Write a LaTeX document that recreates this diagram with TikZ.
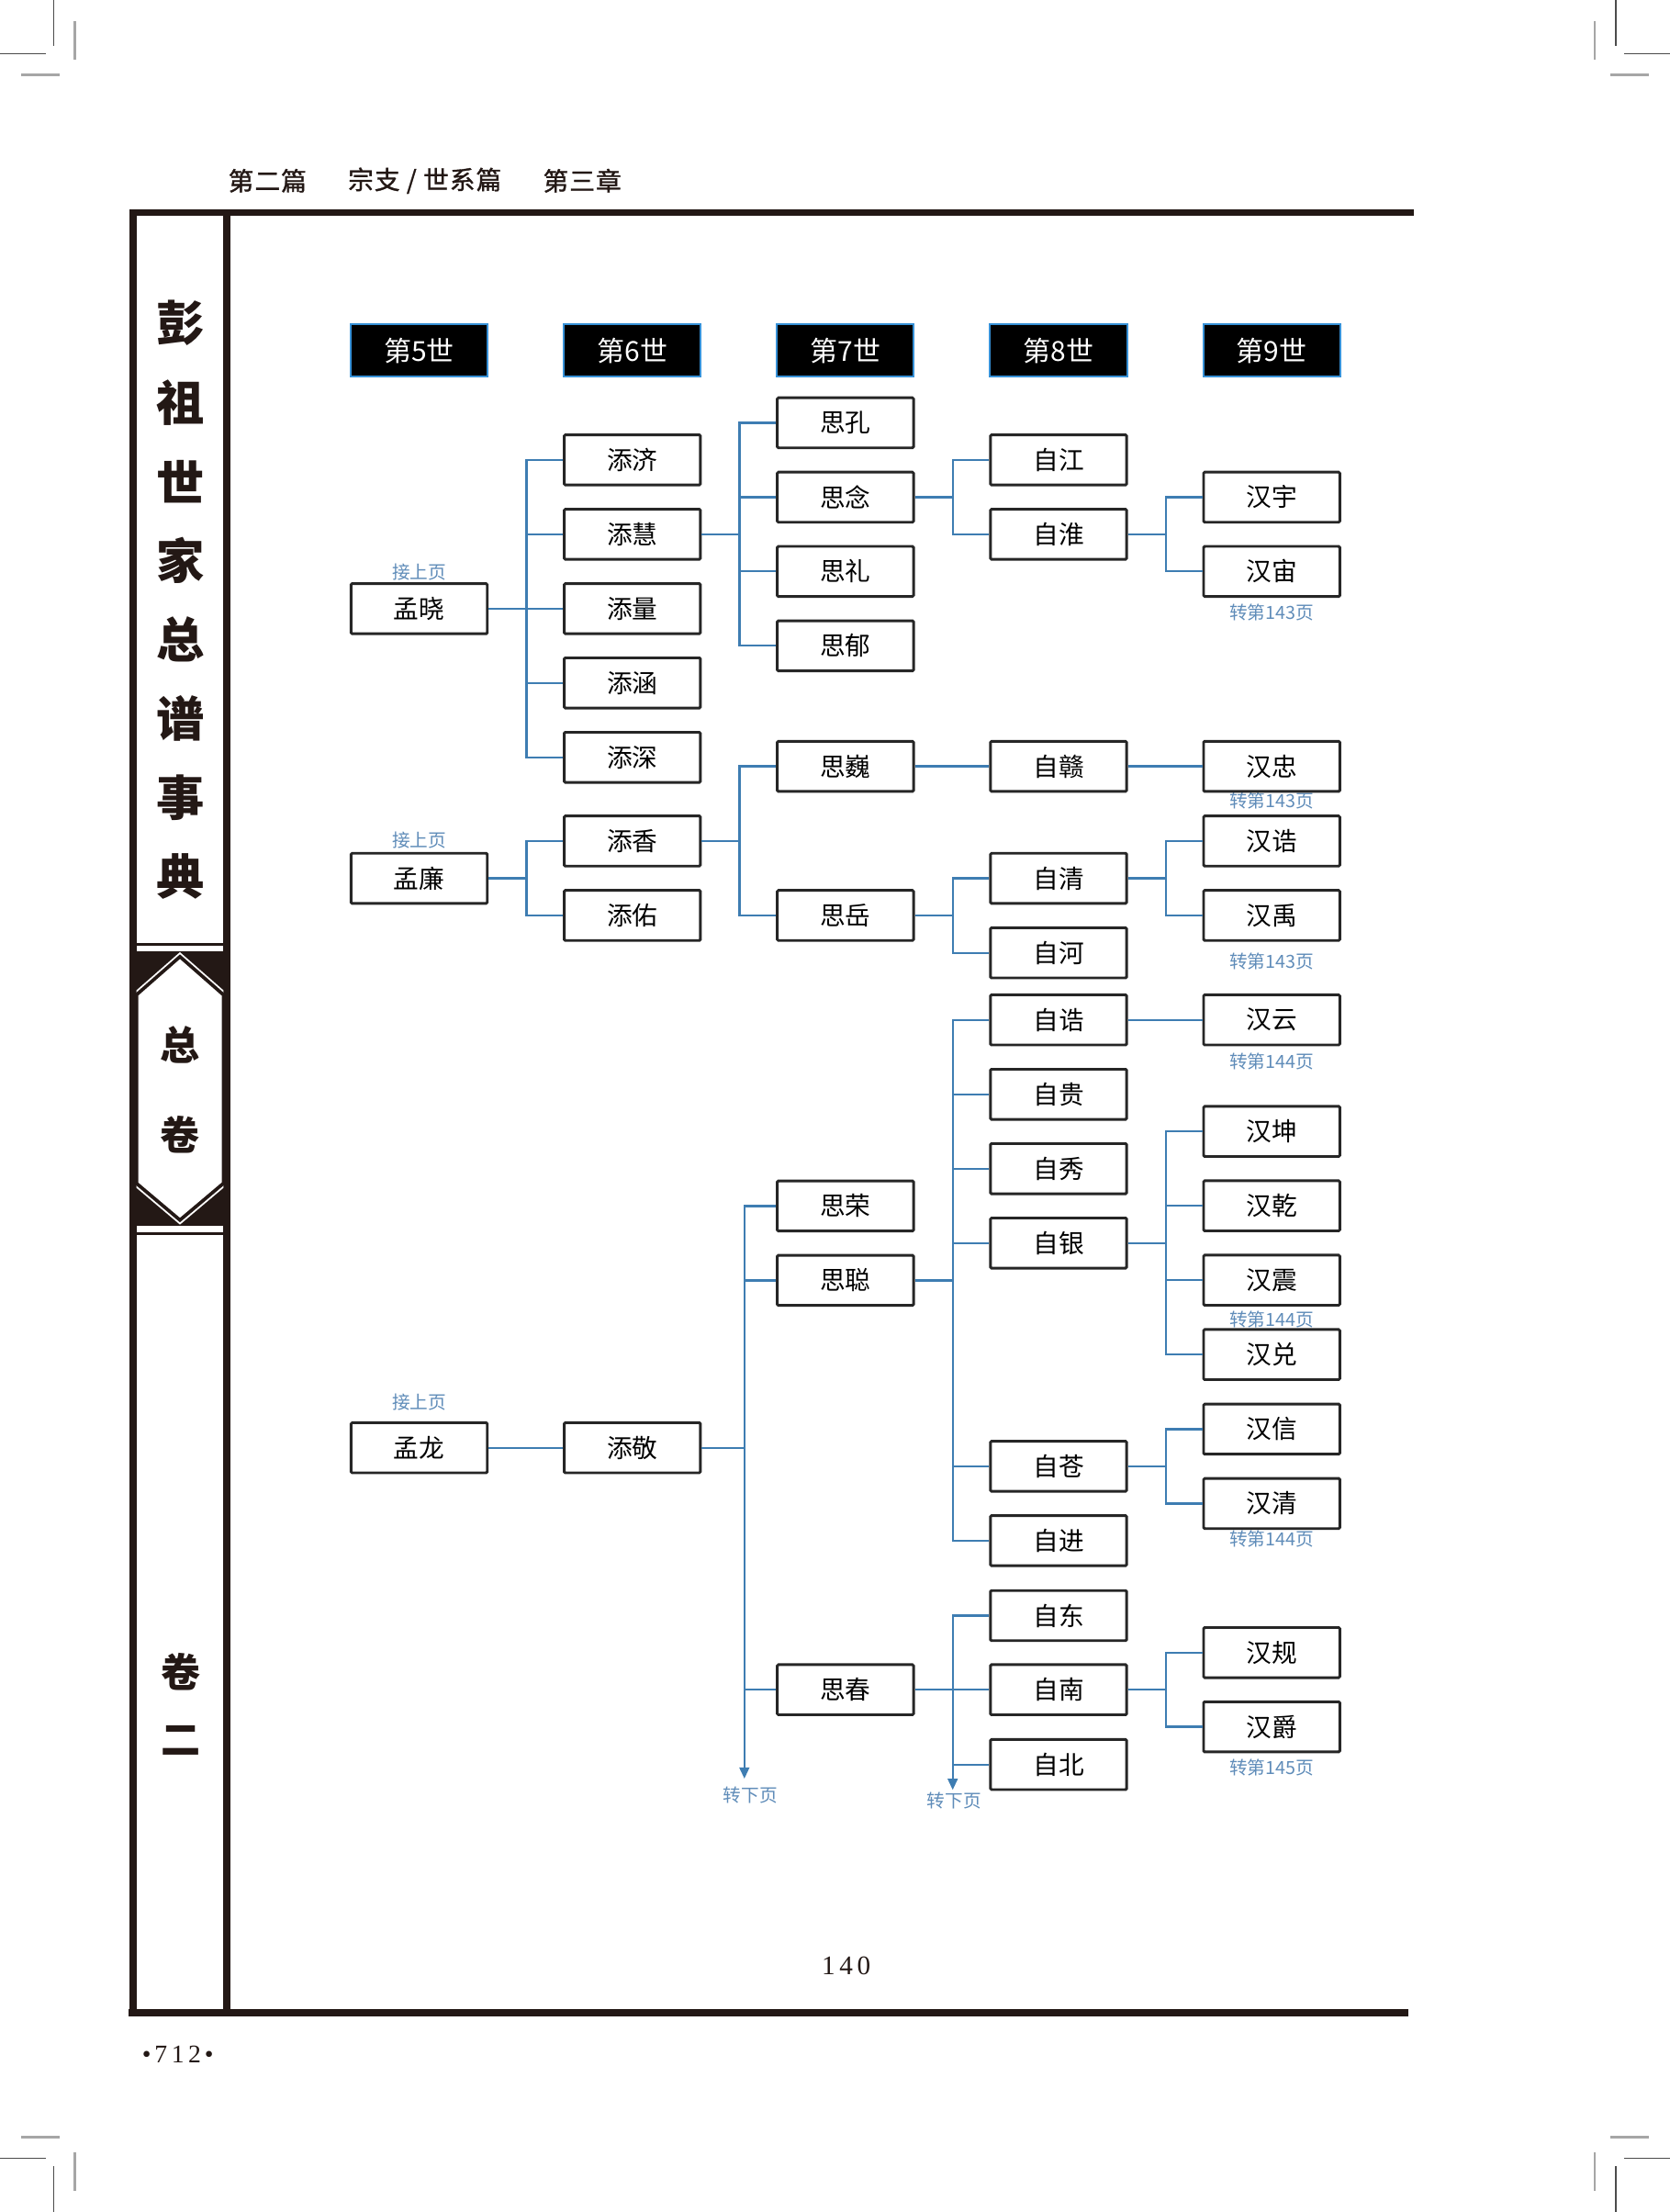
\documentclass[tikz,border=0pt]{standalone}
\usepackage{fontspec}
\usepackage{graphicx}
\newfontfamily\cjk{Noto Sans CJK SC}
\newfontfamily\cjkhead[FakeBold=1.2,LetterSpace=4]{Noto Sans CJK SC}
\newfontfamily\numf{Liberation Serif}
\usetikzlibrary{arrows.meta}
\definecolor{conncol}{RGB}{62,125,178}
\definecolor{lblcol}{RGB}{95,140,185}
\definecolor{genborder}{RGB}{55,145,215}
\definecolor{framecol}{RGB}{35,24,21}
\newcommand\mycrops{%
  \draw[cropd] (38.2,0) -- (38.2,32.5);
  \draw[cropd] (0,38) -- (32.5,38);
  \draw[cropg] (53,15) -- (53,42);
  \draw[cropg] (15,53) -- (42,53);}
\newcommand\fan[3]{\foreach \c in {#3}{\draw[conn] (#1.east) -- (#1.east -| #2) |- (\c.west);}}
\begin{document}
\begin{tikzpicture}[x=1pt,y=-1pt,
 person/.style={draw=black!85,line width=1.9pt,fill=white,minimum width=96.5pt,minimum height=35.5pt,inner sep=0pt,font=\cjk\fontsize{18}{20}\selectfont,rounded corners=0.8pt},
 gen/.style={draw=genborder,line width=1.3pt,fill=black,text=white,minimum width=97pt,minimum height=37pt,inner sep=0pt,font=\cjk\fontsize{19.5}{22}\selectfont},
 lbl/.style={text=lblcol,inner sep=0pt,font=\cjk\fontsize{12.8}{14}\selectfont},
 conn/.style={draw=conncol,line width=1.5pt},
 sidetitle/.style={inner sep=0pt,text=framecol,font=\cjk\bfseries\fontsize{34}{36}\selectfont},
 sidesmall/.style={inner sep=0pt,text=framecol,font=\cjk\bfseries\fontsize{28}{30}\selectfont},
 headtxt/.style={inner sep=0pt,text=framecol,font=\cjkhead\fontsize{18}{20}\selectfont},
 cropd/.style={draw=black!70,line width=0.9pt},
 cropg/.style={draw=black!35,line width=1.4pt},
 dnarrow/.style={conn,-{Triangle[width=7pt,length=8pt]}}]
\useasboundingbox (0,0) rectangle (1183,1567);
\fill[white] (0,0) rectangle (1183,1567);
% crop marks
\begin{scope}\mycrops\end{scope}
\begin{scope}[shift={(1183,0)},xscale=-1]\mycrops\end{scope}
\begin{scope}[shift={(0,1567)},yscale=-1]\mycrops\end{scope}
\begin{scope}[shift={(1183,1567)},xscale=-1,yscale=-1]\mycrops\end{scope}
% running head
\node[headtxt] (h1) at (189.5,128) {第二篇};
\node[headtxt] (h2) at (301,128) {宗支 / 世系篇};
\node[headtxt] (h3) at (412.5,128) {第三章};
% frame
\fill[framecol] (92,148) rectangle (1002,153);
\fill[framecol] (91.8,148) rectangle (96.7,1428.5);
\fill[framecol] (158.3,148) rectangle (163.2,1428.5);
\fill[framecol] (91,1423) rectangle (998,1428.5);
% side band
\fill[framecol] (96.7,668) rectangle (158.3,669.8);
\fill[framecol] (96.7,674) rectangle (158.3,868.6);
\fill[framecol] (96.7,872.8) rectangle (158.3,874.7);
\fill[white] (127.5,674.5) -- (96.7,701.5) -- (96.7,841.5) -- (127.5,867.5) -- (158.3,841.5) -- (158.3,701.5) -- cycle;
\draw[framecol,line width=2.4pt] (127.5,677.7) -- (96.7,704.7) -- (96.7,838.3) -- (127.5,864.3) -- (158.3,838.3) -- (158.3,704.7) -- cycle;
% side titles
\node[sidetitle] (t1) at (128,229) {彭};
\node[sidetitle] (t2) at (128,285) {祖};
\node[sidetitle] (t3) at (128,341) {世};
\node[sidetitle] (t4) at (128,397) {家};
\node[sidetitle] (t5) at (128,453) {总};
\node[sidetitle] (t6) at (128,509) {谱};
\node[sidetitle] (t7) at (128,565) {事};
\node[sidetitle] (t8) at (128,621) {典};
\node[sidesmall] (s1) at (127.5,740) {总};
\node[sidesmall] (s2) at (127.5,804) {卷};
\node[sidesmall] (s3) at (128,1184) {卷};
\node[sidesmall] (s4) at (128,1233) {二};
% page numbers
\node[inner sep=0pt,text=framecol,font=\numf\fontsize{19}{20}\selectfont] (pn) at (599.5,1392.5) {1\hspace{3pt}4\hspace{3pt}0};
\node[inner sep=0pt,text=framecol,font=\numf\fontsize{18}{20}\selectfont] (pn2) at (126,1455) {•\hspace{2.5pt}7\hspace{3pt}1\hspace{3pt}2\hspace{2.5pt}•};
% generation headers
\node[gen] (g5) at (297,248.2) {第5世};
\node[gen] (g6) at (448,248.2) {第6世};
\node[gen] (g7) at (599,248.2) {第7世};
\node[gen] (g8) at (750,248.2) {第8世};
\node[gen] (g9) at (901,248.2) {第9世};
% labels (under boxes)
\node[lbl] (la1) at (297,405.5) {接上页};
\node[lbl] (la2) at (297,595.3) {接上页};
\node[lbl] (la3) at (297,993.3) {接上页};
\node[lbl] (lb1) at (901,434) {转第143页};
\node[lbl] (lb2) at (901,567) {转第143页};
\node[lbl] (lb3) at (901,681) {转第143页};
\node[lbl] (lb4) at (901,752) {转第144页};
\node[lbl] (lb5) at (901,934.6) {转第144页};
\node[lbl] (lb6) at (901,1090) {转第144页};
\node[lbl] (lb7) at (901,1252) {转第145页};
\node[lbl] (lc1) at (531.6,1271.5) {转下页};
\node[lbl] (lc2) at (676,1275.5) {转下页};
% column 5
\node[person] (mx) at (297,431.2) {孟晓};
\node[person] (ml) at (297,622.2) {孟廉};
\node[person] (mlong) at (297,1025.6) {孟龙};
% column 6
\node[person] (tj) at (448,325.8) {添济};
\node[person] (th) at (448,378.5) {添慧};
\node[person] (tl) at (448,431.2) {添量};
\node[person] (thn) at (448,483.8) {添涵};
\node[person] (ts) at (448,536.5) {添深};
\node[person] (tx) at (448,595.8) {添香};
\node[person] (ty) at (448,648.5) {添佑};
\node[person] (tjing) at (448,1025.6) {添敬};
% column 7
\node[person] (sk) at (599,299.5) {思孔};
\node[person] (sn) at (599,352.2) {思念};
\node[person] (sli) at (599,404.8) {思礼};
\node[person] (sy) at (599,457.5) {思郁};
\node[person] (sw) at (599,542.9) {思巍};
\node[person] (syue) at (599,648.5) {思岳};
\node[person] (sr) at (599,854.3) {思荣};
\node[person] (sc) at (599,907) {思聪};
\node[person] (schun) at (599,1197) {思春};
% column 8
\node[person] (zj) at (750,325.8) {自江};
\node[person] (zh) at (750,378.5) {自淮};
\node[person] (zg) at (750,542.9) {自赣};
\node[person] (zq) at (750,622.2) {自清};
\node[person] (zhe) at (750,675) {自河};
\node[person] (zgao) at (750,722.5) {自诰};
\node[person] (zgui) at (750,775.2) {自贵};
\node[person] (zx) at (750,827.9) {自秀};
\node[person] (zyin) at (750,880.6) {自银};
\node[person] (zc) at (750,1038.7) {自苍};
\node[person] (zjin) at (750,1091.4) {自进};
\node[person] (zd) at (750,1144.5) {自东};
\node[person] (zn) at (750,1197) {自南};
\node[person] (zb) at (750,1250) {自北};
% column 9
\node[person] (hy) at (901,352.2) {汉宇};
\node[person] (hz) at (901,404.8) {汉宙};
\node[person] (hzh) at (901,542.9) {汉忠};
\node[person] (hg) at (901,595.8) {汉诰};
\node[person] (hyu) at (901,648.5) {汉禹};
\node[person] (hyun) at (901,722.5) {汉云};
\node[person] (hk) at (901,801.5) {汉坤};
\node[person] (hq) at (901,854.2) {汉乾};
\node[person] (hzn) at (901,906.9) {汉震};
\node[person] (hd) at (901,959.6) {汉兑};
\node[person] (hx) at (901,1012.4) {汉信};
\node[person] (hqing) at (901,1065.1) {汉清};
\node[person] (hgui) at (901,1170.7) {汉规};
\node[person] (hjue) at (901,1223.3) {汉爵};
% bus lines
\coordinate (b56) at (373,0);
\coordinate (b67) at (524,0);
\coordinate (b67L) at (527.4,0);
\coordinate (b78) at (675,0);
\coordinate (b89) at (826,0);
\coordinate (dn1) at (527.4,1260);
\coordinate (dn2) at (675,1268);
% connectors
\fan{mx}{b56}{tj,th,tl,thn,ts}
\fan{th}{b67}{sk,sn,sli,sy}
\fan{sn}{b78}{zj,zh}
\fan{zh}{b89}{hy,hz}
\fan{ml}{b56}{tx,ty}
\fan{tx}{b67}{sw,syue}
\draw[conn] (sw.east) -- (zg.west);
\draw[conn] (zg.east) -- (hzh.west);
\fan{syue}{b78}{zq,zhe}
\fan{zq}{b89}{hg,hyu}
\draw[conn] (mlong.east) -- (tjing.west);
\fan{tjing}{b67L}{sr,sc,schun}
\draw[dnarrow] (tjing.east -| b67L) -- (dn1);
\fan{sc}{b78}{zgao,zgui,zx,zyin,zc,zjin}
\draw[conn] (zgao.east) -- (hyun.west);
\fan{zyin}{b89}{hk,hq,hzn,hd}
\fan{zc}{b89}{hx,hqing}
\fan{schun}{b78}{zd,zn,zb}
\draw[dnarrow] (zd.west) -| (dn2);
\fan{zn}{b89}{hgui,hjue}
\end{tikzpicture}
\end{document}
